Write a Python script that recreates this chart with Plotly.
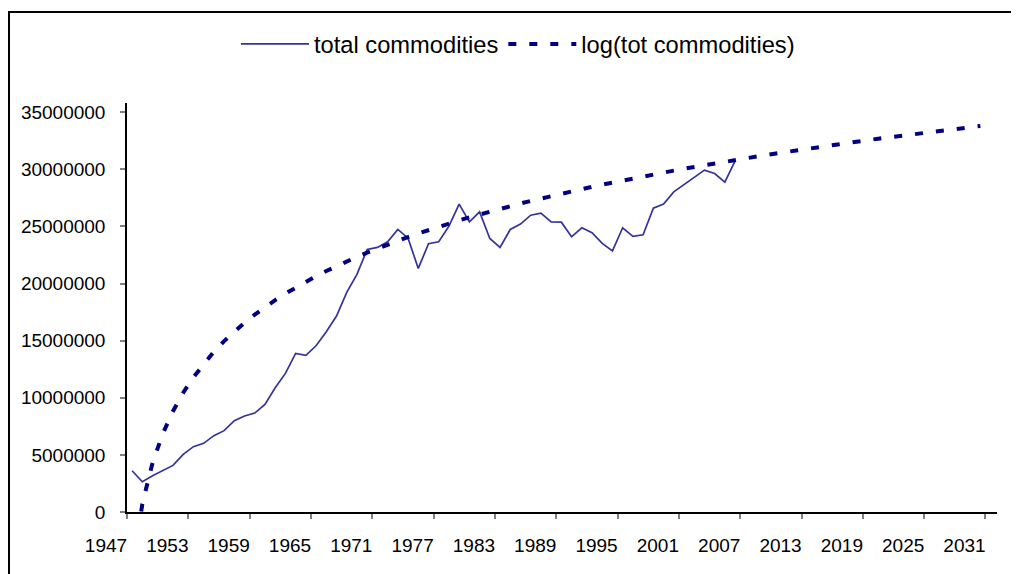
import numpy as np
import plotly.graph_objects as go

# ---- data ----
years = list(range(1947, 2007))
total_commodities = [
    3.61e6, 2.65e6, 3.18e6, 3.65e6, 4.08e6, 5.05e6, 5.72e6, 6.01e6, 6.68e6, 7.12e6,
    7.99e6, 8.40e6, 8.66e6, 9.42e6, 10.88e6, 12.13e6, 13.88e6, 13.71e6, 14.55e6, 15.78e6,
    17.15e6, 19.22e6, 20.80e6, 22.98e6, 23.16e6, 23.65e6, 24.73e6, 23.97e6, 21.32e6, 23.48e6,
    23.65e6, 25.02e6, 26.95e6, 25.40e6, 26.27e6, 23.94e6, 23.16e6, 24.73e6, 25.20e6, 25.98e6,
    26.16e6, 25.40e6, 25.37e6, 24.09e6, 24.88e6, 24.44e6, 23.51e6, 22.86e6, 24.88e6, 24.12e6,
    24.26e6, 26.60e6, 26.95e6, 28.02e6, 28.67e6, 29.34e6, 29.92e6, 29.63e6, 28.87e6, 30.74e6,
]
# logarithmic trendline shown in the chart: y = slope*ln(n) + intercept, n = 1, 2, ...
trend_slope = 8.85e6
trend_intercept = -5.42e6
forecast_periods = 24
tick_labels = ["1947", "1953", "1959", "1965", "1971", "1977", "1983", "1989",
               "1995", "2001", "2007", "2013", "2019", "2025", "2031"]
y_ticks = [0, 5000000, 10000000, 15000000, 20000000, 25000000, 30000000, 35000000]

n_all = np.arange(1, len(total_commodities) + forecast_periods + 1)
trend = trend_slope * np.log(n_all) + trend_intercept
trend_years = [years[0] + k for k in range(len(n_all))]

FONT = "Liberation Sans, Arial, sans-serif"

# page body has an 8px default margin -> figure is 8px smaller and shifted
W, H = 1011, 566
L, R, T, B = 119, 22, 95, 62
plot_w = W - L - R
plot_h = H - T - B

fig = go.Figure()
fig.add_trace(go.Scatter(
    x=years, y=total_commodities, mode="lines", name="total commodities",
    line=dict(color="#333399", width=1.7),
))
fig.add_trace(go.Scatter(
    x=trend_years, y=trend, mode="lines", name="log(tot commodities)",
    line=dict(color="#000080", width=4, dash="8px,13px"),
))

x0 = years[0] - 0.5
tickvals = [x0 + 6 * k for k in range(len(tick_labels))]

fig.update_layout(
    width=W, height=H,
    margin=dict(l=L, r=R, t=T, b=B, autoexpand=False),
    paper_bgcolor="white", plot_bgcolor="white",
    font=dict(family=FONT, size=19, color="black"),
    showlegend=True,
    legend=dict(
        orientation="h", xref="container", yref="container",
        x=510 / W, xanchor="center", y=1 - 36 / H, yanchor="middle",
        font=dict(size=23.7, family=FONT), itemwidth=68,
        bgcolor="rgba(0,0,0,0)", traceorder="normal",
    ),
    xaxis=dict(
        range=[x0, x0 + plot_w / 10.22],
        tickmode="array", tickvals=tickvals, ticktext=tick_labels,
        ticks="outside", ticklen=5, tickcolor="#808080", tickwidth=1.5,
        showline=True, linecolor="black", linewidth=1.5,
        showgrid=False, zeroline=False, ticklabelshift=-21,
        ticklabelstandoff=10,
        tickfont=dict(size=19, family=FONT),
    ),
    yaxis=dict(
        range=[0, 35.8e6],
        tickmode="array", tickvals=y_ticks, tickformat="d",
        ticks="outside", ticklen=5, tickcolor="#808080", tickwidth=1.5,
        showline=True, linecolor="black", linewidth=1.5,
        showgrid=False, zeroline=False, ticklabelstandoff=11,
        tickfont=dict(size=19, family=FONT),
    ),
)

# chart-area frame (left and top edges visible)
fig.add_shape(type="rect", xref="paper", yref="paper",
              x0=(1 - L) / plot_w, x1=1.2, y0=-0.5, y1=(plot_h + T - 4) / plot_h,
              line=dict(color="black", width=2), layer="below")

fig.write_html("out.html")
